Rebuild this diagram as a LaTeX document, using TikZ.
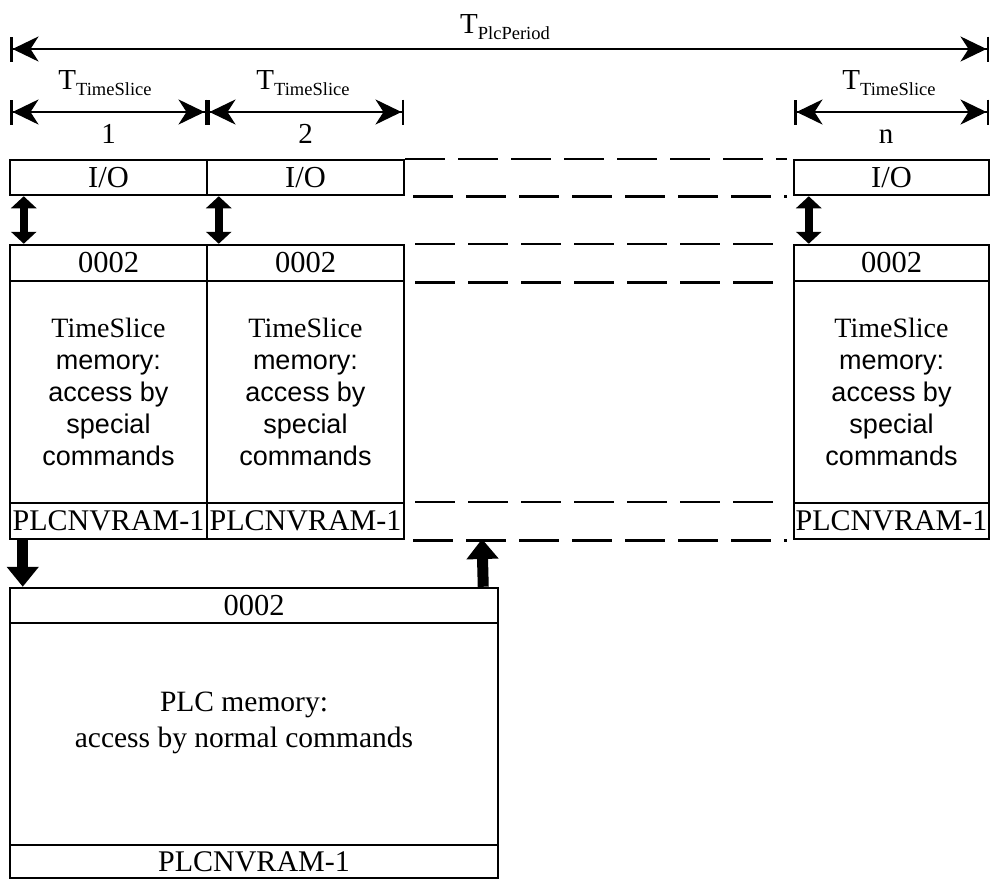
\documentclass[tikz,border=0pt]{standalone}
\usepackage{fontspec}
\setmainfont{Liberation Serif}
\newfontfamily\sansf{Liberation Sans}
\usetikzlibrary{arrows.meta}

% period label: large T with a lowered smaller name
\newcommand\Tlab[1]{{\fontsize{29}{30}\selectfont T}\raisebox{-6.5pt}{\fontsize{18.5}{20}\selectfont #1}}

\begin{document}
\begin{tikzpicture}[x=1pt,y=-1pt,
  cell/.style={draw, line width=2.5pt, inner sep=0pt, font=\fontsize{30.5}{32}\selectfont},
  dimline/.style={line width=2.5pt,
    {Bar[width=25pt,line width=2.5pt]Stealth[length=26pt,width=25pt,inset=8pt]}-{Stealth[length=26pt,width=25pt,inset=8pt]Bar[width=25pt,line width=2.5pt]}},
  lab/.style={anchor=base, inner sep=0pt},
  num/.style={anchor=base, inner sep=0pt, font=\fontsize{29}{30}\selectfont},
  bidir/.style={line width=8pt, {Triangle[length=12pt,width=25pt]}-{Triangle[length=12pt,width=25pt]}},
  oneway/.style={line width=11pt, -{Triangle[length=20pt,width=31pt]}},
  gapline/.style={line width=2.5pt, dash pattern=on 40pt off 13pt},
  memtext/.style={align=center, inner sep=0pt, font=\sansf\fontsize{27}{32}\selectfont},
  plctext/.style={align=center, inner sep=0pt, font=\fontsize{29.5}{36}\selectfont}
]
\useasboundingbox (0,0) rectangle (992,881);

% ---- period and time-slice dimension arrows ----
\coordinate (p0) at (10,49);  \coordinate (p1) at (989,49);
\draw[dimline] (p0) -- (p1);
\node[lab] (tper) at (505,33) {\Tlab{PlcPeriod}};

\coordinate (s0) at (10,112);  \coordinate (s1) at (207,112);
\coordinate (s2) at (404,112); \coordinate (s3) at (794,112);
\coordinate (s4) at (989,112);
\draw[dimline] (s0) -- (s1);
\draw[dimline] (s1) -- (s2);
\draw[dimline] (s3) -- (s4);
\node[lab] (tts1) at (105,89) {\Tlab{TimeSlice}};
\node[lab] (tts2) at (303,89) {\Tlab{TimeSlice}};
\node[lab] (tts3) at (889,89) {\Tlab{TimeSlice}};
\node[num] (n1) at (108.5,143) {1};
\node[num] (n2) at (305.5,143) {2};
\node[num] (n3) at (886,143) {n};

% ---- I/O cells ----
\node[cell, minimum width=197pt, minimum height=35pt] (io1) at (108.5,177.5) {I/O};
\node[cell, minimum width=197pt, minimum height=35pt] (io2) at (305.5,177.5) {I/O};
\node[cell, minimum width=195pt, minimum height=35pt] (io3) at (891.5,177.5) {I/O};

% ---- time-slice memory columns ----
\foreach \i/\cx/\w in {1/108.5/197, 2/305.5/197, 3/891.5/195}{
  \node[cell, minimum width=\w pt, minimum height=36pt] (hd\i) at (\cx,263) {0002};
  \node[cell, minimum width=\w pt, minimum height=222pt] (bd\i) at (\cx,392) {};
  \node[cell, minimum width=\w pt, minimum height=36pt, font=\fontsize{30}{32}\selectfont] (ft\i) at (\cx,521) {PLCNVRAM-1};
  \node[memtext] (mt\i) at (bd\i) {{\rmfamily\fontsize{28}{32}\selectfont TimeSlice}\\memory:\\access by\\special\\commands};
}

% ---- dashed continuation between slice 2 and slice n ----
\draw[gapline, dash phase=0pt]  (io2.north east) -- ([xshift=-6pt]io3.north west);
\draw[gapline, dash phase=-8pt] (io2.south east) -- ([xshift=-6pt]io3.south west);
\draw[gapline, dash phase=-10pt] (hd2.north east) -- ([xshift=-12pt]hd3.north west);
\draw[gapline, dash phase=-10pt] (hd2.south east) -- ([xshift=-12pt]hd3.south west);
\draw[gapline, dash phase=-10pt] (ft2.north east) -- ([xshift=-12pt]ft3.north west);
\coordinate (gapbot) at (482,539);
\draw[gapline, dash phase=-8pt] (ft2.south east) -- ([xshift=-6pt]ft3.south west);

% ---- I/O <-> memory transfers ----
\draw[bidir] ([xshift=15pt]io1.south west) -- ([xshift=15pt]hd1.north west);
\draw[bidir] ([xshift=13pt]io2.south west) -- ([xshift=13pt]hd2.north west);
\draw[bidir] ([xshift=16pt]io3.south west) -- ([xshift=16pt]hd3.north west);

% ---- PLC memory ----
\node[cell, minimum width=488pt, minimum height=35pt] (phd) at (254,605.5) {0002};
\node[cell, minimum width=488pt, minimum height=222pt] (pbd) at (254,734) {};
\node[cell, minimum width=488pt, minimum height=33pt, font=\fontsize{30}{32}\selectfont] (pft) at (254,861.5) {PLCNVRAM-1};
\node[plctext] (ptx) at (244,723) {PLC memory:\\access by normal commands};

% ---- copy in / copy back ----
\draw[oneway] ([xshift=14pt]ft1.south west) -- ([xshift=14pt]phd.north west);
\draw[oneway] ([xshift=-16pt]phd.north east) -- (gapbot);
\end{tikzpicture}
\end{document}
